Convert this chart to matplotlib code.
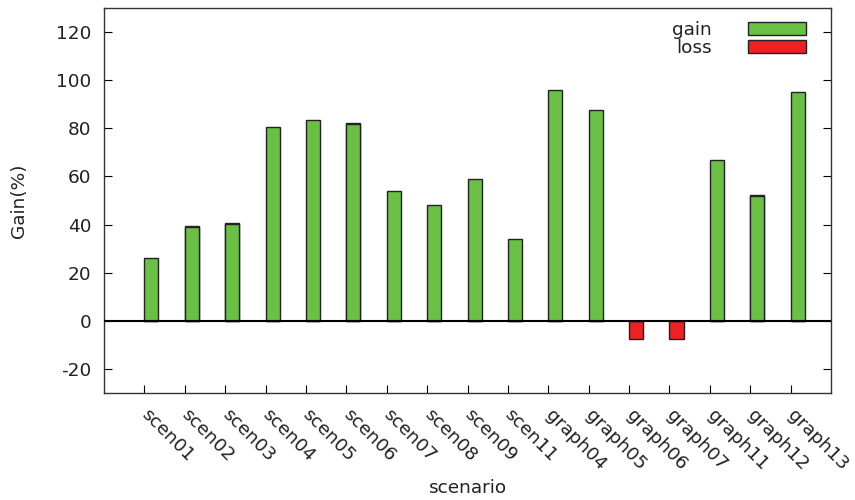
import matplotlib.pyplot as plt
from matplotlib.patches import Patch
import numpy as np

scenarios = ["scen01", "scen02", "scen03", "scen04", "scen05", "scen06",
             "scen07", "scen08", "scen09", "scen11", "graph04", "graph05",
             "graph06", "graph07", "graph11", "graph12", "graph13"]
gain = [26.0, 39.1, 40.3, 80.4, 83.3, 81.8, 53.8, 48.0, 58.8, 34.0,
        96.1, 87.6, 0.0, 0.0, 66.7, 51.9, 95.0]
loss = [0.0, 39.4, 40.5, 0.0, 0.0, 82.2, 0.0, 0.0, 0.0, 0.0,
        0.0, 0.0, -7.6, -7.6, 0.0, 52.3, 0.0]

green = "#6abf45"
red = "#ed2024"
txt = "#222222"
fs = 13.3

plt.rcParams["axes.unicode_minus"] = False

fig = plt.figure(figsize=(8.55, 5.0), dpi=100)
ax = fig.add_axes([0.1216, 0.214, 0.8504, 0.77])

x = np.arange(len(scenarios))
ax.bar(x, loss, width=0.35, align="edge", color=red, edgecolor="#222222",
       linewidth=1.0, zorder=2)
ax.bar(x, gain, width=0.35, align="edge", color=green, edgecolor="#222222",
       linewidth=1.0, zorder=3)
ax.axhline(0, color="black", linewidth=1.5, zorder=4)

ax.set_xlim(-1, 17)
ax.set_ylim(-30, 130)
ax.set_yticks(range(-20, 121, 20))
ax.set_xticks(x)
ax.set_xticklabels(scenarios, rotation=-45, ha="left", va="center",
                   rotation_mode="anchor", fontsize=fs, color=txt)
ax.tick_params(axis="y", direction="in", length=6, right=True,
               labelsize=fs, labelcolor=txt, pad=9)
ax.tick_params(axis="x", direction="in", length=6, top=False, pad=14)
for s in ax.spines.values():
    s.set_color("#333333")
    s.set_linewidth(1.0)

ax.set_xlabel("scenario", fontsize=fs, color=txt, labelpad=4)
ax.set_ylabel("Gain(%)", fontsize=fs, color=txt, labelpad=20)

handles = [Patch(facecolor=green, edgecolor="#222222", label="gain"),
           Patch(facecolor=red, edgecolor="#222222", label="loss")]
leg = ax.legend(handles=handles, loc="upper right", frameon=False,
                markerfirst=False, handlelength=3.15, handleheight=0.7,
                labelspacing=0.0, fontsize=fs, borderaxespad=0,
                borderpad=0, handletextpad=1.95,
                bbox_to_anchor=(0.966, 0.966))
for t in leg.get_texts():
    t.set_color(txt)
    t.set_ha("right")

fig.savefig("out.png", dpi=100)
